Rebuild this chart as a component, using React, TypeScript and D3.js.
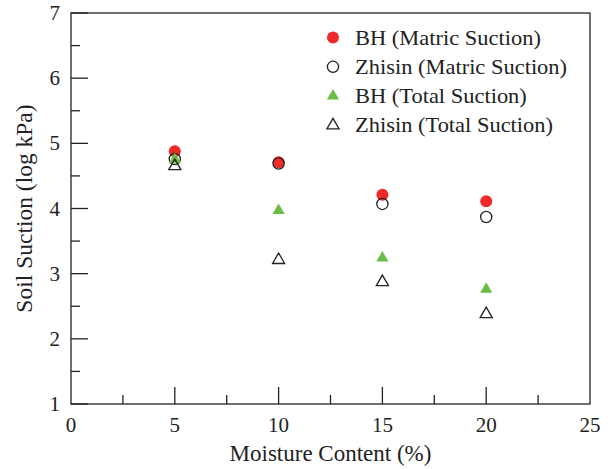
import React from "react";
import * as d3 from "d3";

const moisture = [5, 10, 15, 20];
const bhMatric = [4.88, 4.71, 4.21, 4.11];
const zhisinMatric = [4.76, 4.69, 4.07, 3.87];
const bhTotal = [4.75, 3.97, 3.24, 2.76];
const zhisinTotal = [4.65, 3.21, 2.87, 2.38];

const xTicks = [0, 5, 10, 15, 20, 25];
const yTicks = [1, 2, 3, 4, 5, 6, 7];

const seriesNames = [
  "BH (Matric Suction)",
  "Zhisin (Matric Suction)",
  "BH (Total Suction)",
  "Zhisin (Total Suction)",
];

const W = 612;
const H = 469;
const m = { left: 71, right: 22, top: 13, bottom: 65 };
const RED = "#ee2a2b";
const GREEN = "#6cbd45";
const FONT = "'Liberation Serif', 'DejaVu Serif', serif";

export default function App() {
  const x = d3.scaleLinear().domain([0, 25]).range([m.left, W - m.right]);
  const y = d3.scaleLinear().domain([1, 7]).range([H - m.bottom, m.top]);
  const tri = d3.symbol(d3.symbolTriangle, 64)();

  const xMinor = d3.range(2.5, 25, 5);
  const yMinor = d3.range(1.5, 7, 1);

  const marker = (k, cx, cy, key) => {
    if (k === 0) return <circle key={key} cx={cx} cy={cy} r={6} fill={RED} />;
    if (k === 1)
      return <circle key={key} cx={cx} cy={cy} r={5.6} fill="none" stroke="#222" strokeWidth={1.3} />;
    if (k === 2)
      return <path key={key} d={tri} transform={`translate(${cx},${cy})`} fill={GREEN} />;
    return (
      <path key={key} d={tri} transform={`translate(${cx},${cy})`} fill="none" stroke="#222" strokeWidth={1.3} />
    );
  };

  const allSeries = [bhMatric, zhisinMatric, bhTotal, zhisinTotal];
  const [x0, x1] = x.range();
  const [y0, y1] = y.range();

  return (
    <svg width={W} height={H} style={{ position: "absolute", left: 0, top: 0, background: "#fff" }}>
      <g stroke="#222" strokeWidth={1.3}>
        <rect x={x0} y={y1} width={x1 - x0} height={y0 - y1} fill="none" />
        {xTicks.slice(1, -1).map((t) => (
          <line key={"xt" + t} x1={x(t)} x2={x(t)} y1={y0} y2={y0 - 17} />
        ))}
        {xMinor.map((t) => (
          <line key={"xm" + t} x1={x(t)} x2={x(t)} y1={y0} y2={y0 - 9} />
        ))}
        {yTicks.map((t) => (
          <line key={"yt" + t} x1={x0} x2={x0 + 17} y1={y(t)} y2={y(t)} />
        ))}
        {yMinor.map((t) => (
          <line key={"ym" + t} x1={x0} x2={x0 + 9} y1={y(t)} y2={y(t)} />
        ))}
      </g>
      <g fontFamily={FONT} fontSize={21} fill="#222">
        {xTicks.map((t) => (
          <text key={"xl" + t} x={x(t)} y={y0 + 28} textAnchor="middle">
            {t}
          </text>
        ))}
        {yTicks.map((t) => (
          <text key={"yl" + t} x={x0 - 11} y={y(t) + 7} textAnchor="end">
            {t}
          </text>
        ))}
        <text x={(x0 + x1) / 2} y={H - 8} textAnchor="middle" fontSize={23}>
          Moisture Content (%)
        </text>
        <text
          transform={`translate(32,${(y0 + y1) / 2}) rotate(-90)`}
          textAnchor="middle"
          fontSize={23.5}
        >
          Soil Suction (log kPa)
        </text>
      </g>
      <g>
        {allSeries.map((s, k) =>
          s.map((v, i) => marker(k, x(moisture[i]), y(v), `p${k}-${i}`))
        )}
      </g>
      <g fontFamily={FONT} fontSize={21} fill="#222">
        {seriesNames.map((name, k) => (
          <g key={name} transform={`translate(0,${37.5 + k * 29.3})`}>
            {marker(k, 333, 0, "lg" + k)}
            <text transform="translate(355,7) scale(1.07,1)">{name}</text>
          </g>
        ))}
      </g>
    </svg>
  );
}
